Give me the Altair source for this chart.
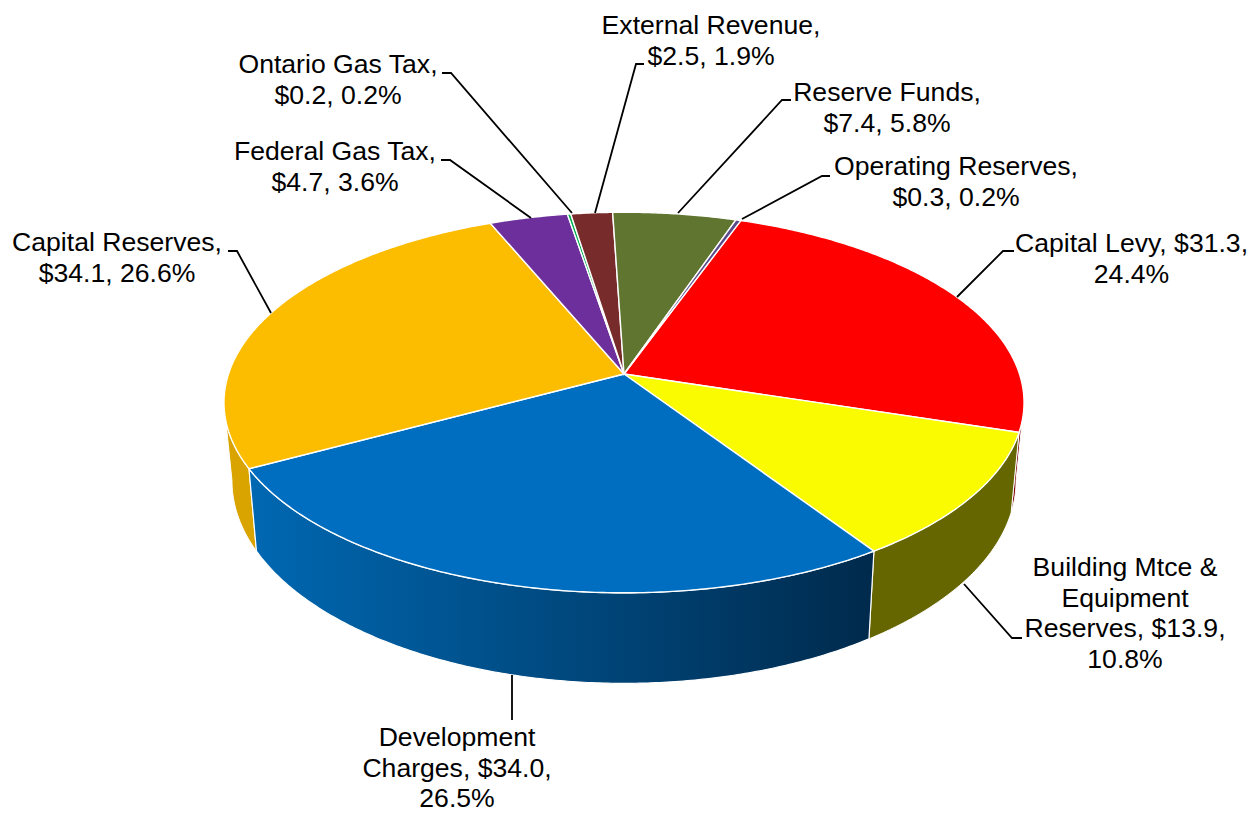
import math
import altair as alt
import pandas as pd

categories = ["Capital Levy", "Building Mtce & Equipment Reserves", "Development Charges",
              "Capital Reserves", "Federal Gas Tax", "Ontario Gas Tax", "External Revenue",
              "Reserve Funds", "Operating Reserves"]
values = [31.3, 13.9, 34.0, 34.1, 4.7, 0.2, 2.5, 7.4, 0.3]
top_colors = ["#FF0000", "#FAFA00", "#006EC0", "#FCBC00", "#6C2F9C", "#00B050", "#772B2A", "#5F7530", "#5A4A8A"]
side_colors = ["#7A0000", "#666600", "#003A68", "#D9A300", "#41205E", "#006A30", "#471A19", "#39461D", "#362C53"]

label_lines = [
    ["Capital Levy,  $31.3,", "24.4%"],
    ["Building Mtce &", "Equipment", "Reserves, $13.9,", "10.8%"],
    ["Development", "Charges, $34.0,", "26.5%"],
    ["Capital Reserves,", "$34.1, 26.6%"],
    ["Federal Gas Tax,", "$4.7, 3.6%"],
    ["Ontario Gas Tax,", "$0.2, 0.2%"],
    ["External Revenue,", "$2.5, 1.9%"],
    ["Reserve Funds,", "$7.4, 5.8%"],
    ["Operating Reserves,", "$0.3, 0.2%"],
]

# layout (page pixels)
label_x = [1131.5, 1125, 457, 117, 335, 338, 711, 887, 956]
label_y = [244, 568, 738, 243, 152, 65, 26, 93, 167]
LINE = 30.6
leaders = [
    [(957, 297), (1003, 251), (1014, 251)],
    [(964, 584), (1012, 638), (1022, 638)],
    [(512, 675), (512, 720)],
    [(271, 313), (237, 251), (228, 251)],
    [(531, 218), (450, 160), (441, 160)],
    [(572, 213), (451, 73), (442, 73)],
    [(595, 213), (636, 64), (644, 64)],
    [(678, 213), (782, 100), (791, 100)],
    [(742, 219), (822, 176), (830, 176)],
]
CX, CY = 624, 374
A, B, K = 395.5, 186, 0.15
START = 19.7
TURN_R = math.degrees(math.acos(-K))   # right edge of the disc's silhouette
TURN_L = 360 - TURN_R                  # left edge of the disc's silhouette


def top_pt(deg):
    t = math.radians(deg)
    X, Y = math.sin(t), math.cos(t)
    w = 1 + K * Y
    return (CX + A * X / w, CY - B * Y / w)


def low_pt(deg):
    x, y = top_pt(deg)
    return (CX + (x - CX) * 0.98, y + 80 + 0.065 * (y - 431))


def arc(fn, a0, a1):
    n = max(2, int(abs(a1 - a0) * 2))
    return [list(fn(a0 + (a1 - a0) * i / n)) for i in range(n + 1)]


def feature(coords, color, kind="Polygon"):
    geom = {"type": kind, "coordinates": [coords] if kind == "Polygon" else coords}
    return {"type": "Feature", "geometry": geom, "properties": {"color": color}}


total = sum(values)
tops, walls = [], []
blue_wall = None
a = START
for v, c, s in zip(values, top_colors, side_colors):
    b = a + v / total * 360
    tops.append(feature([[CX, CY]] + arc(top_pt, a, b) + [[CX, CY]], c))
    # only the part of the rim that faces the viewer gets a wall
    w0, w1 = max(a, TURN_R), min(b, TURN_L)
    if w1 > w0:
        up = arc(top_pt, w0, w1)
        low = arc(low_pt, w0, w1)[::-1]
        wall = feature(up + low + [up[0]], s)
        if c == "#006EC0":
            blue_wall = wall
        else:
            walls.append(wall)
    a = b

proj = dict(type="identity", scale=1, translate=[-8, -8])


def shapes(features, **mark):
    return (alt.Chart(alt.Data(values=features))
            .mark_geoshape(**mark)
            .encode(fill=alt.Fill("properties.color:N", scale=None))
            .project(**proj))


wall_layer = shapes(walls, stroke="#FFFFFF", strokeWidth=1.0)
blue_layer = (alt.Chart(alt.Data(values=[blue_wall]))
              .mark_geoshape(stroke="#FFFFFF", strokeWidth=1.2,
                             fill=alt.LinearGradient(gradient="linear", x1=0, x2=1, y1=0, y2=0,
                                                     stops=[alt.GradientStop(color="#0068B2", offset=0),
                                                            alt.GradientStop(color="#002A4C", offset=1)]))
              .project(**proj))
top_layer = shapes(tops, stroke="#FFFFFF", strokeWidth=1.4)
leader_layer = (alt.Chart(alt.Data(values=[feature([list(p) for p in l], "#000", "LineString") for l in leaders]))
                .mark_geoshape(filled=False, stroke="#000000", strokeWidth=1.8)
                .project(**proj))

rows = []
for lines, x, y in zip(label_lines, label_x, label_y):
    for i, t in enumerate(lines):
        rows.append({"t": t, "x": x - 8, "y": y + i * LINE - 8})
text_layer = (alt.Chart(pd.DataFrame(rows))
              .mark_text(font="Liberation Sans", fontSize=26.6, color="#000000", align="center", baseline="middle")
              .encode(x=alt.X("x:Q", scale=None), y=alt.Y("y:Q", scale=None), text="t:N"))

chart = (alt.layer(wall_layer, blue_layer, top_layer, leader_layer, text_layer)
         .properties(width=1239, height=807, padding=0, autosize=alt.AutoSizeParams(type="none"), background="#FFFFFF")
         .configure_view(stroke=None)
         .configure_axis(disable=True))
chart.save("out.html", embed_options={"renderer": "svg", "actions": False})
